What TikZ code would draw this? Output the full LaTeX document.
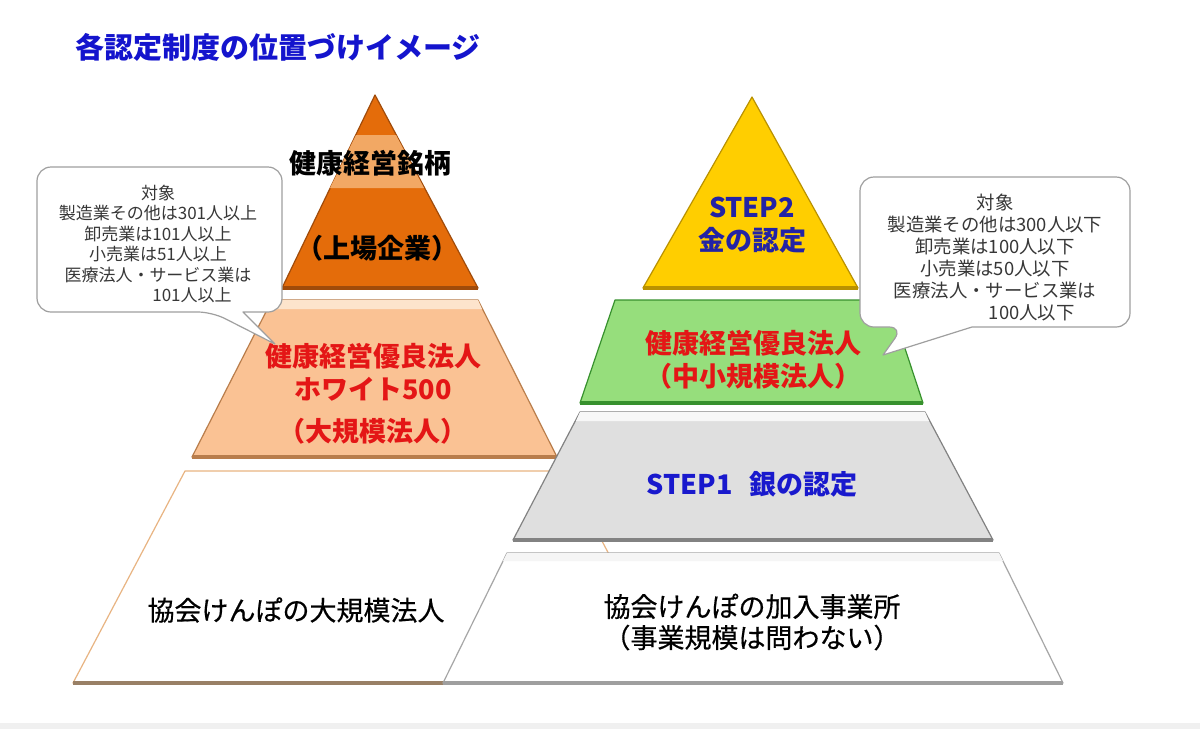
\documentclass[tikz,border=0pt]{standalone}
\usepackage{fontspec}
\setmainfont{Noto Sans CJK JP}
\newfontfamily\jpmedium{Noto Sans CJK JP}[FakeBold=0.5]
\usetikzlibrary{calc}

\definecolor{titleblue}{RGB}{20,20,205}
\definecolor{orangeT}{RGB}{228,108,10}
\definecolor{orangeHi}{RGB}{242,168,100}
\definecolor{orangeEdge}{RGB}{160,75,10}
\definecolor{peach}{RGB}{250,194,148}
\definecolor{peachHi}{RGB}{253,228,204}
\definecolor{peachEdge}{RGB}{185,125,75}
\definecolor{redtext}{RGB}{228,22,22}
\definecolor{gold}{RGB}{255,206,0}
\definecolor{goldEdge}{RGB}{185,145,0}
\definecolor{leaf}{RGB}{150,222,124}
\definecolor{leafEdge}{RGB}{55,145,45}
\definecolor{silver}{RGB}{223,223,223}
\definecolor{silverEdge}{RGB}{130,130,130}
\definecolor{navytext}{RGB}{35,35,165}
\definecolor{stepblue}{RGB}{25,25,205}
\definecolor{notegray}{RGB}{55,55,55}
\definecolor{tan}{RGB}{232,180,130}

\begin{document}
\begin{tikzpicture}[x=0.5pt, y=-0.5pt,
  tier/.style={line width=0.6pt, line join=round},
  base/.style={line width=2pt},
  label/.style={font=\bfseries\fontsize{13.5}{16.5}\selectfont, align=center, inner sep=0pt},
  plain/.style={font=\jpmedium\fontsize{13.5}{15.5}\selectfont, align=center, inner sep=0pt},
  bubble/.style={draw=gray!75, fill=white, line width=0.6pt, line join=round},
  note/.style={text=notegray, align=center, inner sep=0pt}
]
\useasboundingbox[fill=white] (0,0) rectangle (1200,729);
\fill[gray!12] (0,723) rectangle (1200,729);

% Title
\node[font=\bfseries\fontsize{14.5}{16}\selectfont, text=titleblue, anchor=west, inner sep=0pt] (title) at (75,47) {各認定制度の位置づけイメージ};

% Left pyramid
\filldraw[tier, fill=white, draw=tan] (185,471) -- (565,471) -- (677,683) -- (73,683) -- cycle;
\draw[base, draw=gray!60!brown] (73,683) -- (677,683);
\filldraw[tier, fill=peach, draw=peachEdge] (272,300) -- (478,300) -- (557,457) -- (192,457) -- cycle;
\fill[peachHi] (272,300) -- (478,300) -- (482,309) -- (268,309) -- cycle;
\draw[base, draw=peachEdge] (192,457) -- (557,457);
\filldraw[tier, fill=orangeT, draw=orangeEdge] (375,95) -- (478,288) -- (282,288) -- cycle;
\fill[orangeHi] (356,135) -- (396,135) -- (424,188) -- (330,188) -- cycle;
\draw[base, draw=orangeEdge] (282,288) -- (478,288);

% Right pyramid
\filldraw[tier, fill=white, draw=gray!70] (507,553) -- (999,553) -- (1063,683) -- (443,683) -- cycle;
\fill[gray!8] (507,553) -- (999,553) -- (1003,561) -- (503,561) -- cycle;
\draw[base, draw=gray!75] (443,683) -- (1063,683);
\filldraw[tier, fill=silver, draw=silverEdge] (580,412) -- (925,412) -- (993,540) -- (513,540) -- cycle;
\fill[gray!6] (580,412) -- (925,412) -- (929,421) -- (576,421) -- cycle;
\draw[base, draw=silverEdge] (513,540) -- (993,540);
\filldraw[tier, fill=leaf, draw=leafEdge] (615,300) -- (889,300) -- (923,403) -- (580,403) -- cycle;
\draw[base, draw=leafEdge] (580,403) -- (923,403);
\filldraw[tier, fill=gold, draw=goldEdge] (752,97) -- (858,288) -- (643,288) -- cycle;
\draw[base, draw=goldEdge] (643,288) -- (858,288);

% Tier labels
\node[label] (brand) at (370,163) {健康経営銘柄};
\node[label] (listed) at (377,248) {（上場企業）};
\node[label, text=redtext] (white500) at (373,394) {健康経営優良法人\\ホワイト500\\[4.5pt]（大規模法人）};
\node[plain] (kyokaiL) at (296,610) {協会けんぽの大規模法人};
\node[label, text=navytext] (step2) at (752,225) {STEP2\\金の認定};
\node[label, text=redtext] (smb) at (753,360) {健康経営優良法人\\（中小規模法人）};
\node[label, text=stepblue] (step1) at (752,484) {STEP1\hspace{0.6em}銀の認定};
\node[plain] (kyokaiR) at (752,622) {協会けんぽの加入事業所\\（事業規模は問わない）};

% Callouts
\draw[bubble] (275,344) -- (243,312) [rounded corners=7pt] -- (282,312) -- (282,167) -- (37,167) -- (37,312) -- (212,312) [sharp corners] -- cycle;
\node[note, font=\fontsize{8.5}{10.2}\selectfont] (largenote) at (158,244) {対象\\製造業その他は301人以上\\卸売業は101人以上\\小売業は51人以上\\医療法人・サービス業は\\\hspace*{4em}101人以上};
\draw[bubble] (883,355) -- (972,327) [rounded corners=7pt] -- (1130,327) -- (1130,177) -- (860,177) -- (860,327) -- (903,327) [sharp corners] -- cycle;
\node[note, font=\fontsize{9.2}{11}\selectfont] (smallnote) at (995,257) {対象\\製造業その他は300人以下\\卸売業は100人以下\\小売業は50人以下\\医療法人・サービス業は\\\hspace*{4em}100人以下};
\end{tikzpicture}
\end{document}
